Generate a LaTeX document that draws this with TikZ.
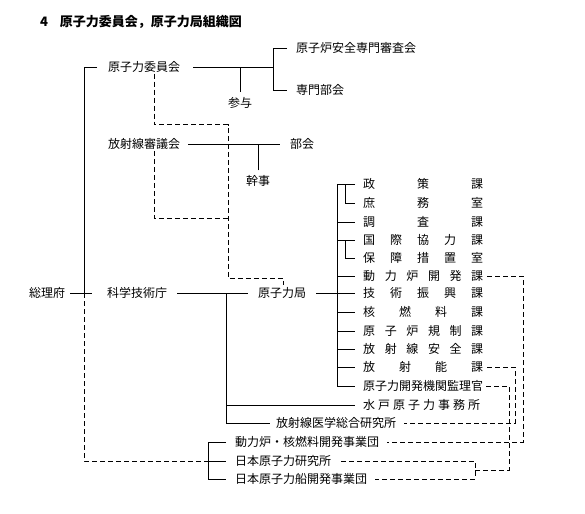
\documentclass[tikz,border=0pt]{standalone}
\usepackage{fontspec}
\newfontfamily\jp{Noto Sans CJK JP}
\newcommand{\spr}[2][120pt]{\makebox[#1][s]{#2}}
\begin{document}
\begin{tikzpicture}[x=1pt,y=-1pt,
  lbl/.style={inner sep=0pt, anchor=west, font=\jp\fontsize{12}{13}\selectfont},
  ttl/.style={inner sep=0pt, anchor=west, font=\jp\bfseries\fontsize{13}{14}\selectfont},
  ln/.style={line width=0.8pt},
  dl/.style={line width=0.8pt, dash pattern=on 5pt off 3pt}]
\useasboundingbox (0,0) rectangle (585,513);

\node[ttl] (title) at (40,22) {4\hspace{0.9em}原子力委員会，原子力局組織図};

\node[lbl] (iinkai) at (108,67) {原子力委員会};
\node[lbl] (anzen) at (296,48) {原子炉安全専門審査会};
\node[lbl] (senmon) at (296,90) {専門部会};
\node[lbl, anchor=center] (sanyo) at (240,103) {参与};
\node[lbl] (shingi) at (108,144) {放射線審議会};
\node[lbl] (bukai) at (290,144) {部会};
\node[lbl, anchor=center] (kanji) at (258,181) {幹事};
\node[lbl] (sorifu) at (29,293) {総理府};
\node[lbl] (kagaku) at (107,293) {科学技術庁};
\node[lbl] (kyoku) at (258,293) {原子力局};

\node[lbl] (k1) at (363,184) {\spr{政\hfill 策\hfill 課}};
\node[lbl] (k2) at (363,203) {\spr{庶\hfill 務\hfill 室}};
\node[lbl] (k3) at (363,222) {\spr{調\hfill 査\hfill 課}};
\node[lbl] (k4) at (363,240) {\spr{国\hfill 際\hfill 協\hfill 力\hfill 課}};
\node[lbl] (k5) at (363,258) {\spr{保\hfill 障\hfill 措\hfill 置\hfill 室}};
\node[lbl] (k6) at (363,276) {\spr{動\hfill 力\hfill 炉\hfill 開\hfill 発\hfill 課}};
\node[lbl] (k7) at (363,293) {\spr{技\hfill 術\hfill 振\hfill 興\hfill 課}};
\node[lbl] (k8) at (363,312) {\spr{核\hfill 燃\hfill 料\hfill 課}};
\node[lbl] (k9) at (363,331) {\spr{原\hfill 子\hfill 炉\hfill 規\hfill 制\hfill 課}};
\node[lbl] (k10) at (363,349) {\spr{放\hfill 射\hfill 線\hfill 安\hfill 全\hfill 課}};
\node[lbl] (k11) at (363,367) {\spr{放\hfill 射\hfill 能\hfill 課}};
\node[lbl] (k12) at (363,386) {\spr[117pt]{原\hfill 子\hfill 力\hfill 開\hfill 発\hfill 機\hfill 関\hfill 監\hfill 理\hfill 官}};
\node[lbl] (mito) at (363,405) {\spr[117pt]{水\hfill 戸\hfill 原\hfill 子\hfill 力\hfill 事\hfill 務\hfill 所}};
\node[lbl] (hoiken) at (276,423) {放射線医学総合研究所};
\node[lbl] (doennen) at (235,442) {動力炉・核燃料開発事業団};
\node[lbl] (genken) at (235,461) {日本原子力研究所};
\node[lbl] (genzen) at (235,479) {日本原子力船開発事業団};

\coordinate (spine) at (84,293);
\coordinate (kspine) at (226,293);
\coordinate (bk) at (475,470);

% 総理府 spine
\draw[ln] ([xshift=-11pt]iinkai.west) -| (spine);
\draw[ln] ([xshift=5pt]sorifu.east) -- ([xshift=8pt]spine);
\draw[dl] (spine) -- (spine |- genken) -- ([xshift=-30pt]genken.west);
\draw[ln] ([xshift=-30pt]genken.west) -- ([xshift=-9pt]genken.west);
\draw[ln] ([xshift=-9pt]doennen.west) -| ([xshift=-27pt]genzen.west) -- ([xshift=-9pt]genzen.west);

% 原子力委員会
\draw[ln] ([xshift=13pt]iinkai.east) -- ([xshift=-23pt]anzen.west |- iinkai.center);
\draw[ln] ([yshift=5pt]sanyo.north) -- (sanyo.north |- iinkai.center);
\draw[ln] ([xshift=-9pt]anzen.west) -| ([xshift=-23pt]senmon.west) -- ([xshift=-9pt]senmon.west);

% 放射線審議会
\draw[ln] ([xshift=8pt]shingi.east) -- ([xshift=-10pt]bukai.west);
\draw[ln] ([yshift=5pt]kanji.north) -- (kanji.north |- shingi.center);

% 科学技術庁
\draw[ln] ([xshift=10pt]kagaku.east) -- ([xshift=-10pt]kyoku.west);
\draw[ln] (kspine) |- ([xshift=-6pt]hoiken.west);
\draw[ln] (kspine |- mito) -- ([xshift=-8pt]mito.west);

% 原子力局
\draw[ln] ([xshift=10pt]kyoku.east) -- ([xshift=-26pt]k7.west);
\draw[ln] ([xshift=-8pt]k1.west) -- ([xshift=-26pt]k1.west) |- ([xshift=-8pt]k12.west);
\draw[ln] ([xshift=-18pt]k1.west) |- ([xshift=-8pt]k2.west);
\draw[ln] ([xshift=-26pt]k3.west) -- ([xshift=-8pt]k3.west);
\draw[ln] ([xshift=-26pt]k4.west) -- ([xshift=-8pt]k4.west);
\draw[ln] ([xshift=-18pt]k4.west) |- ([xshift=-8pt]k5.west);
\foreach \k in {k6,k7,k8,k9,k10,k11}
  \draw[ln] ([xshift=-26pt]\k.west) -- ([xshift=-8pt]\k.west);

% dashed
\draw[dl] ([xshift=10pt,yshift=-1pt]iinkai.south) -- ++(0,51) -| (228,278) -| ([xshift=25pt,yshift=2pt]kyoku.north west);
\draw[dl] ([xshift=10pt,yshift=-1pt]shingi.south) |- (228,218);
\draw[dl] ([xshift=4pt]k6.east) -| (523,442) -- ([xshift=8pt]doennen.east);
\draw[dl] ([xshift=4pt]k11.east) -| (515,423) -- ([xshift=8pt]hoiken.east);
\draw[dl] ([xshift=6pt]k12.east) -| (509,470) -- (bk);
\draw[dl] ([xshift=10pt]genken.east) -| (bk) |- ([xshift=8pt]genzen.east);
\end{tikzpicture}
\end{document}
